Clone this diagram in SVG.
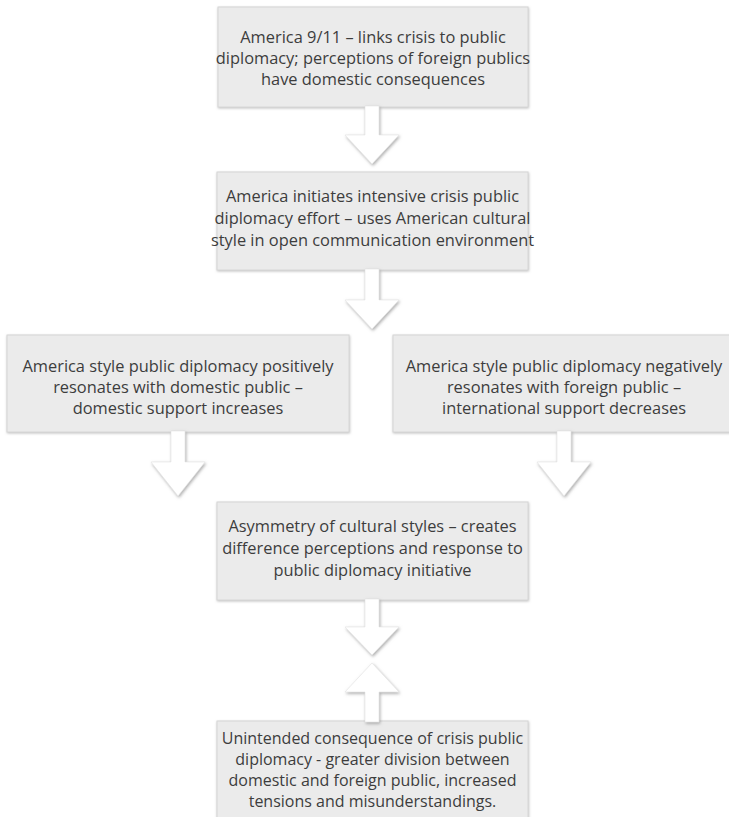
<svg xmlns="http://www.w3.org/2000/svg" width="729" height="817" viewBox="0 0 729 817">
<defs>
<filter id="boxsh" x="-5%" y="-10%" width="110%" height="125%">
<feDropShadow dx="0.5" dy="1" stdDeviation="1" flood-color="#9a9a9a" flood-opacity="0.6"/>
</filter>
<filter id="arrsh" x="-30%" y="-20%" width="160%" height="150%">
<feDropShadow dx="1" dy="1.5" stdDeviation="1.6" flood-color="#8a8a8a" flood-opacity="0.7"/>
</filter>
<style>
.box{fill:#ebebeb;stroke:#d6d6d6;stroke-width:1;filter:url(#boxsh);}
.lbl{font-family:"Open Sans","Noto Sans","Liberation Sans",sans-serif;font-size:16.4px;fill:#3d3d3d;text-anchor:middle;}
.sm{font-size:16px;}
.arr{fill:#ffffff;stroke:#e2e2e2;stroke-width:0.6;filter:url(#arrsh);}
</style>
</defs>
<rect width="729" height="817" fill="#ffffff"/>

<g id="node1">
<rect class="box" x="218" y="7" width="310" height="100"/>
<text class="lbl" x="373" y="43">America 9/11 – links crisis to public</text>
<text class="lbl" x="373" y="64">diplomacy; perceptions of foreign publics</text>
<text class="lbl" x="373" y="85">have domestic consequences</text>
</g>

<g id="node2">
<rect class="box" x="217" y="172" width="311" height="98"/>
<text class="lbl" x="372.5" y="202">America initiates intensive crisis public</text>
<text class="lbl" x="372.5" y="224">diplomacy effort – uses American cultural</text>
<text class="lbl" x="372.5" y="246">style in open communication environment</text>
</g>

<g id="node3">
<rect class="box" x="7" y="335" width="342" height="97"/>
<text class="lbl" x="178" y="372">America style public diplomacy positively</text>
<text class="lbl" x="178" y="393">resonates with domestic public –</text>
<text class="lbl" x="178" y="414">domestic support increases</text>
</g>

<g id="node4">
<rect class="box" x="393" y="335" width="342" height="97"/>
<text class="lbl" x="564" y="372">America style public diplomacy negatively</text>
<text class="lbl" x="564" y="393">resonates with foreign public –</text>
<text class="lbl" x="564" y="414">international support decreases</text>
</g>

<g id="node5">
<rect class="box" x="217" y="502" width="311" height="98"/>
<text class="lbl" x="372.5" y="532">Asymmetry of cultural styles – creates</text>
<text class="lbl" x="372.5" y="554">difference perceptions and response to</text>
<text class="lbl" x="372.5" y="576">public diplomacy initiative</text>
</g>

<g id="node6">
<rect class="box" x="217" y="721" width="311" height="110"/>
<text class="lbl sm" x="372.5" y="744">Unintended consequence of crisis public</text>
<text class="lbl sm" x="372.5" y="765">diplomacy - greater division between</text>
<text class="lbl sm" x="372.5" y="786">domestic and foreign public, increased</text>
<text class="lbl sm" x="372.5" y="807">tensions and misunderstandings.</text>
</g>

<g id="connectors">
<polygon class="arr" points="365,106 379,106 379,135 399,135 372,164 345,135 365,135"/>
<polygon class="arr" points="365,269 379,269 379,300 399,300 372,329 345,300 365,300"/>
<polygon class="arr" points="171,431 185,431 185,462 205,462 178,496 151,462 171,462"/>
<polygon class="arr" points="557,431 571,431 571,462 591,462 564,496 537,462 557,462"/>
<polygon class="arr" points="365,599 379,599 379,627 399,627 372,655 345,627 365,627"/>
<polygon class="arr" points="365,722 379,722 379,692 399,692 372,663 345,692 365,692"/>
</g>
</svg>
